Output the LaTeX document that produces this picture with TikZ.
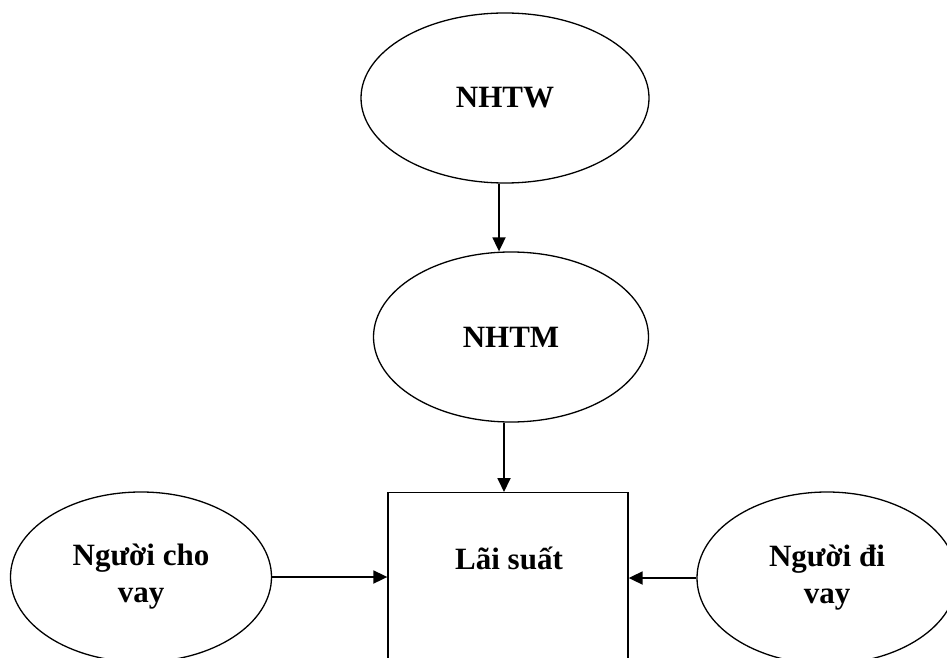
\documentclass[tikz,border=0pt]{standalone}
\usepackage{fontspec}
\setmainfont{Liberation Serif}
\usetikzlibrary{shapes.geometric,arrows.meta}
\begin{document}
\begin{tikzpicture}[x=1pt,y=-1pt,
  oval/.style={draw,ellipse,line width=1.3pt,inner sep=0pt,align=center,
    font=\bfseries\fontsize{31}{37}\selectfont},
  box/.style={draw,rectangle,line width=1.3pt,inner sep=0pt},
  lbl/.style={font=\bfseries\fontsize{31}{37}\selectfont,inner sep=0pt},
  arr/.style={line width=1.8pt,-{Triangle[length=14pt,width=13pt]}}]
\useasboundingbox (0,0) rectangle (947,658);
\clip (0,0) rectangle (947,658);
\fill[white] (0,0) rectangle (947,658);
\node[oval,minimum width=288,minimum height=170] (nhtw) at (505,98) {NHTW};
\node[oval,minimum width=275,minimum height=170] (nhtm) at (511,337) {NHTM};
\node[box,minimum width=240,minimum height=250,anchor=north] (ls) at (508,492) {};
\node[lbl] (lstext) at (509,558) {Lãi suất};
\node[oval,minimum width=261,minimum height=170] (cho) at (141,577) {Người cho\\vay};
\node[oval,minimum width=260,minimum height=172] (di) at (827,578) {Người đi\\vay};
\draw[arr] ([xshift=-6pt]nhtw.south) -- ([xshift=-6pt]nhtw.south |- nhtm.north);
\draw[arr] ([xshift=-7pt]nhtm.south) -- ([xshift=-7pt]nhtm.south |- ls.north);
\draw[arr] (cho.east) -- (cho.east -| ls.west);
\draw[arr] (di.west) -- (di.west -| ls.east);
\end{tikzpicture}
\end{document}
